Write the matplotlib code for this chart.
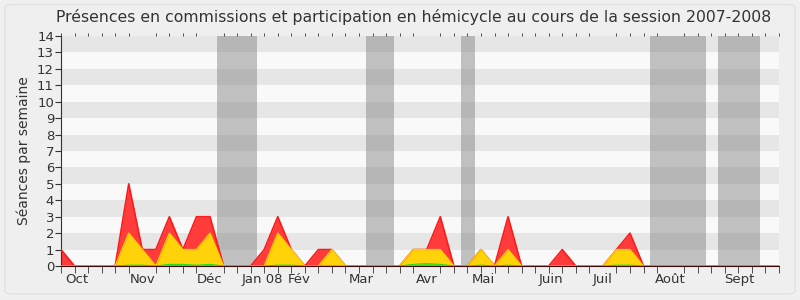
import matplotlib
matplotlib.use("Agg")
import matplotlib.pyplot as plt
import numpy as np
from matplotlib.patches import FancyBboxPatch

# weekly values (53 weeks, session 2007-2008)
red =    [1,0,0,0,0,5,1,1,3,1,3,3,0,0,0,1,3,1,0,1,1,0,0,0,0,0,1,1,3,0,0,1,0,3,0,0,0,1,0,0,0,1,2,0,0,0,0,0,0,0,0,0,0,0]
yellow = [0,0,0,0,0,2,1,0,2,1,1,2,0,0,0,0,2,1,0,0,1,0,0,0,0,0,1,1,1,0,0,1,0,1,0,0,0,0,0,0,0,1,1,0,0,0,0,0,0,0,0,0,0,0]
green =  [0,0,0,0,0,0.05,0.05,0,0.1,0.1,0.05,0.1,0,0,0,0,0.05,0.05,0,0,0,0,0,0,0,0,0.1,0.15,0.1,0,0,0.05,0,0.05,0,0,0,0,0,0,0,0.05,0.05,0,0,0,0,0,0,0,0,0,0,0]
vacations = [(11.5, 14.5), (22.5, 24.6), (29.5, 30.55), (43.5, 47.6), (48.5, 51.6)]
months = ["Oct", "Nov", "Déc", "Jan 08", "Fév", "Mar", "Avr", "Mai", "Juin", "Juil", "Août", "Sept"]
month_pos = [1.15, 6.0, 11.0, 14.85, 17.6, 22.2, 27.0, 31.2, 36.2, 40.0, 45.0, 50.1]

n_weeks = 53
x = np.arange(len(red))

fig = plt.figure(figsize=(8, 3), dpi=100, facecolor="#f0f0f0")
fig.patches.append(FancyBboxPatch((0.006, 0.02), 0.988, 0.965, boxstyle="round,pad=0,rounding_size=0.012",
                                  transform=fig.transFigure, facecolor="#efefef", edgecolor="#e2e2e2",
                                  linewidth=1, zorder=-10))
ax = fig.add_axes([0.07625, 0.1133, 0.8975, 0.7667])
ax.set_xlim(0, n_weeks)
ax.set_ylim(0, 14)

# background stripes
for k in range(14):
    ax.axhspan(k, k + 1, color="#e6e6e6" if k % 2 == 1 else "#f9f9f9", zorder=0, lw=0)
for a, b in vacations:
    ax.axvspan(a, b, color="#888888", alpha=0.5, zorder=1, lw=0)

ax.fill_between(x, 0, red, color="#ff3b3b", zorder=2, lw=0)
ax.plot(x, red, color="#ff1a1a", lw=1.2, zorder=3)
ax.fill_between(x, 0, yellow, color="#ffd20a", zorder=4, lw=0)
ax.plot(x, yellow, color="#ffd000", lw=1.0, zorder=5)
ax.fill_between(x, 0, green, color="#22ee22", zorder=6, lw=0)
ax.plot(x, green, color="#22dd22", lw=0.8, zorder=7)

ax.set_yticks(range(15))
ax.tick_params(axis="y", direction="out", length=4, labelsize=9.5, colors="#333333", pad=1)
ax.set_xticks(np.arange(0, n_weeks + 1), minor=True)
ax.set_xticks(month_pos)
ax.set_xticklabels(months)
ax.tick_params(axis="x", which="major", length=0, labelsize=9.5, colors="#333333", pad=5)
ax.tick_params(axis="x", which="minor", length=5, direction="out", color="#333333", top=True)
ax.set_ylabel("Séances par semaine", fontsize=10, color="#333333", labelpad=4)

for s in ["top", "right"]:
    ax.spines[s].set_visible(False)
ax.spines["left"].set_color("#333333")
ax.spines["bottom"].set_color("#3a0a0a")
ax.spines["bottom"].set_zorder(8)
for t in ax.xaxis.get_minor_ticks():
    t.tick2line.set_markersize(2)
    t.tick2line.set_color("#444444")

fig.text(0.5175, 0.943, "Présences en commissions et participation en hémicycle au cours de la session 2007-2008",
         ha="center", va="center", fontsize=11.3, color="#333333")

fig.savefig("out.png", dpi=100, facecolor=fig.get_facecolor())
